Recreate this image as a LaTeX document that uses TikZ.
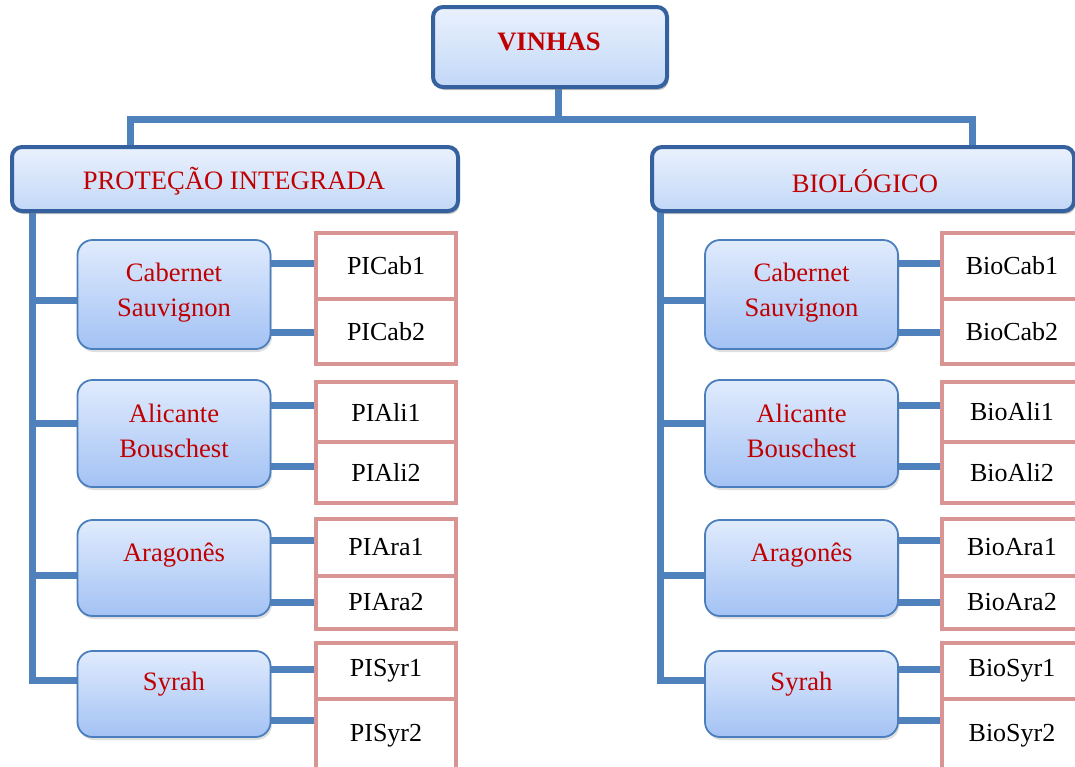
\documentclass[tikz,border=0pt]{standalone}
\usepackage{fontspec}
\setmainfont{Liberation Serif}
\usetikzlibrary{shadows}

\definecolor{linkblue}{HTML}{4F81BD}
\definecolor{headedge}{HTML}{35629E}
\definecolor{headtop}{HTML}{EAF1FD}
\definecolor{headbot}{HTML}{C2D8F7}
\definecolor{grapeedge}{HTML}{4A7EBC}
\definecolor{grapetop}{HTML}{E0EBFD}
\definecolor{grapebot}{HTML}{A3C2F4}
\definecolor{leafedge}{HTML}{D99594}
\definecolor{wine}{HTML}{C00000}

\pgfdeclarelayer{links}
\pgfsetlayers{links,main}

\tikzset{
  link/.style={draw=linkblue, line width=7pt},
  headbox/.style={rounded corners=10pt, draw=headedge, line width=4pt,
    top color=headtop, bottom color=headbot, inner sep=0pt, outer sep=0pt,
    drop shadow={shadow xshift=1.5pt, shadow yshift=-3pt, opacity=0.5}},
  grapebox/.style={rounded corners=15pt, draw=grapeedge, line width=1.8pt,
    top color=grapetop, bottom color=grapebot, inner sep=0pt, outer sep=0pt,
    minimum width=193pt,
    drop shadow={shadow xshift=1.5pt, shadow yshift=-3pt, opacity=0.25}},
  leafbox/.style={draw=leafedge, line width=4.5pt, fill=white,
    minimum width=140pt, inner sep=0pt, outer sep=0pt,
    font=\fontsize{26}{30}\selectfont},
  redtxt/.style={text=wine, align=center, inner sep=0pt,
    font=\fontsize{26.6}{35}\selectfont},
}

\begin{document}
\begin{tikzpicture}[x=1pt, y=-1pt]
\useasboundingbox (0,0) rectangle (1075,766);
\clip (0,0) rectangle (1075,766);

% header boxes
\node[headbox, minimum width=234pt, minimum height=80pt] (vin) at (550,47) {};
\node[headbox, minimum width=446pt, minimum height=64pt] (phead) at (235,179) {};
\node[headbox, minimum width=422pt, minimum height=64pt] (bhead) at (863,179) {};

\node[redtxt, font=\fontsize{26.6}{35}\selectfont\bfseries] (tvin) at (549,42) {VINHAS};
\node[redtxt] (tphead) at (234,181) {PROTEÇÃO INTEGRADA};
\node[redtxt] (tbhead) at (865,181) {BIOLÓGICO};

% top level links
\coordinate (hubl) at (130,119);
\coordinate (hubr) at (972,119);
\begin{pgfonlayer}{links}
  \draw[link] (vin.south -| 558,0) -- (558,119);
  \draw[link] (phead.north -| hubl) -- (hubl) -- (hubr) -- (bhead.north -| hubr);
\end{pgfonlayer}

% one column per production system
\foreach \s/\sx/\gx/\lx/\pre in {p/32/174/386/PI, b/660/801.5/1012/Bio} {
  \foreach \g/\gy/\gh/\ty/\lab/\code/\ac/\ah/\bc/\bh/\ay/\by/\br/\rs in {
      cab/294.5/109/293/{Cabernet\\Sauvignon}/Cab/266/66/331.5/65/263/332/300/0,
      ali/433.5/107/431/{Alicante\\Bouschest}/Ali/412/60/472.5/61/405/466/423/0,
      ara/568/96/555/{Aragonês}/Ara/547.5/57/602.5/53/540/602/575/0,
      syr/694/86/684/{Syrah}/Syr/671/56/737/76/669/720/680/9} {
    \node[grapebox, minimum height=\gh pt] (\s\g) at (\gx,\gy) {};
    \node[redtxt] (t\s\g) at (\gx,\ty) {\lab};
    \node[leafbox, minimum height=\ah pt] (\s\g1) at (\lx,\ac) {\pre\code1};
    \node[leafbox, minimum height=\bh pt] (\s\g2) at (\lx,\bc)
      {\raisebox{\rs pt}{\pre\code2}};
    \begin{pgfonlayer}{links}
      \draw[link] (\s\g.east |- 0,\ay) -- (\s\g1.west |- 0,\ay);
      \draw[link] (\s\g.east |- 0,\by) -- (\s\g2.west |- 0,\by);
      \draw[link] (\sx,\br) -- (\s\g.west |- 0,\br);
    \end{pgfonlayer}
  }
  \begin{pgfonlayer}{links}
    \draw[link] (\s head.south -| \sx,0) -- (\sx,680) -- (\s syr.west |- 0,680);
  \end{pgfonlayer}
}
\end{tikzpicture}
\end{document}
